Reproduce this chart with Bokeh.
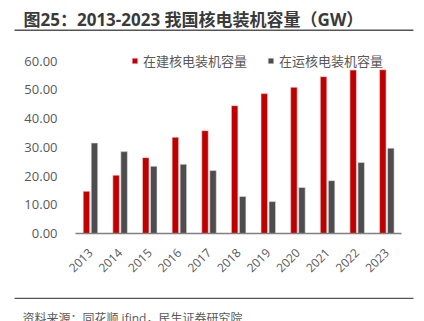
import math
from bokeh.plotting import figure
from bokeh.models import (FactorRange, ColumnDataSource, Legend, LegendItem,
                          NumeralTickFormatter, FixedTicker, Range1d)
from bokeh.core.properties import value
from bokeh.layouts import column
from bokeh.transform import dodge
from bokeh.embed import file_html
from bokeh.resources import INLINE

years = ["2013", "2014", "2015", "2016", "2017", "2018", "2019", "2020", "2021", "2022", "2023"]
under_construction = [14.7, 20.3, 26.4, 33.5, 35.8, 44.5, 48.7, 50.9, 54.6, 56.9, 57.0]
in_operation = [31.5, 28.5, 23.4, 24.1, 21.9, 12.9, 11.1, 16.0, 18.4, 24.7, 29.7]
series_names = ["在建核电装机容量", "在运核电装机容量"]
y_ticks = [0, 10, 20, 30, 40, 50, 60]
title_text = "图25：2013-2023 我国核电装机容量（GW）"
source_text = "资料来源：同花顺 ifind，民生证券研究院"

FONT = "'Open Sans', 'Noto Sans CJK SC', sans-serif"
RED = "#C00000"
GRAY = "#4D4D4F"
LINE = "#555555"


def blank_fig(h):
    f = figure(width=424, height=h, x_range=Range1d(0, 424), y_range=Range1d(h, 0),
               x_axis_type=None, y_axis_type=None, output_backend="svg",
               toolbar_location=None, min_border=0)
    f.outline_line_color = None
    f.grid.grid_line_color = None
    f.border_fill_color = "white"
    f.background_fill_color = "white"
    f.frame_align = False
    return f


# Header
hdr = blank_fig(31)
hdr.text(x=[23], y=[19], text=[title_text], text_font=value(FONT), text_font_size="17px",
         text_font_style="bold", text_color="#3a3a3a", text_baseline="middle")
hdr.segment(x0=[14], y0=[29.75], x1=[413], y1=[29.75], line_color=LINE, line_width=1.5)

# Main chart
src = ColumnDataSource(dict(year=years, a=under_construction, b=in_operation))

p = figure(x_range=FactorRange(*years), y_range=Range1d(0, 63),
           width=424, height=266, output_backend="svg", toolbar_location=None,
           min_border_left=75, min_border_right=23, min_border_top=21, min_border_bottom=64)
p.outline_line_color = None
p.grid.grid_line_color = None
p.background_fill_color = "white"
p.border_fill_color = "white"
p.frame_align = False

r1 = p.vbar(x=dodge("year", -0.13, range=p.x_range), top="a", width=0.22, source=src,
            fill_color=RED, line_color="#f2dada", line_width=0.6)
r2 = p.vbar(x=dodge("year", 0.14, range=p.x_range), top="b", width=0.22, source=src,
            fill_color=GRAY, line_color="#e0e0e0", line_width=0.6)

p.x_range.range_padding = 0
p.x_range.group_padding = 0

xa = p.xaxis[0]
xa.axis_line_color = "#808080"
xa.axis_line_width = 1.5
xa.major_tick_line_color = None
xa.minor_tick_line_color = None
xa.major_label_orientation = math.pi / 4
xa.major_label_text_font = FONT
xa.major_label_text_font_size = "12px"
xa.major_label_text_color = "#595959"
xa.major_label_standoff = 11

ya = p.yaxis[0]
ya.axis_line_color = None
ya.major_tick_line_color = None
ya.minor_tick_line_color = None
ya.ticker = FixedTicker(ticks=y_ticks)
ya.formatter = NumeralTickFormatter(format="0.00")
ya.major_label_text_font = FONT
ya.major_label_text_font_size = "13px"
ya.major_label_text_color = "#595959"
ya.major_label_standoff = 12

legend = Legend(items=[LegendItem(label=series_names[0], renderers=[r1]),
                       LegendItem(label=series_names[1], renderers=[r2])],
                orientation="horizontal", location=(56, 163),
                glyph_width=7, glyph_height=7, label_standoff=5, spacing=20,
                padding=0, margin=0, border_line_color=None, background_fill_alpha=0,
                label_text_font=FONT, label_text_font_size="13px",
                label_text_color="#595959", label_height=14)
p.add_layout(legend, "center")

# Footer
ftr = blank_fig(24)
ftr.segment(x0=[14], y0=[0.75], x1=[413], y1=[0.75], line_color=LINE, line_width=1.5)
ftr.text(x=[22], y=[21], text=[source_text], text_font=value(FONT), text_font_size="12px",
         text_color="#595959", text_baseline="middle")

layout = column(hdr, p, ftr, spacing=0)

open("out.html", "w").write(file_html(layout, INLINE))
